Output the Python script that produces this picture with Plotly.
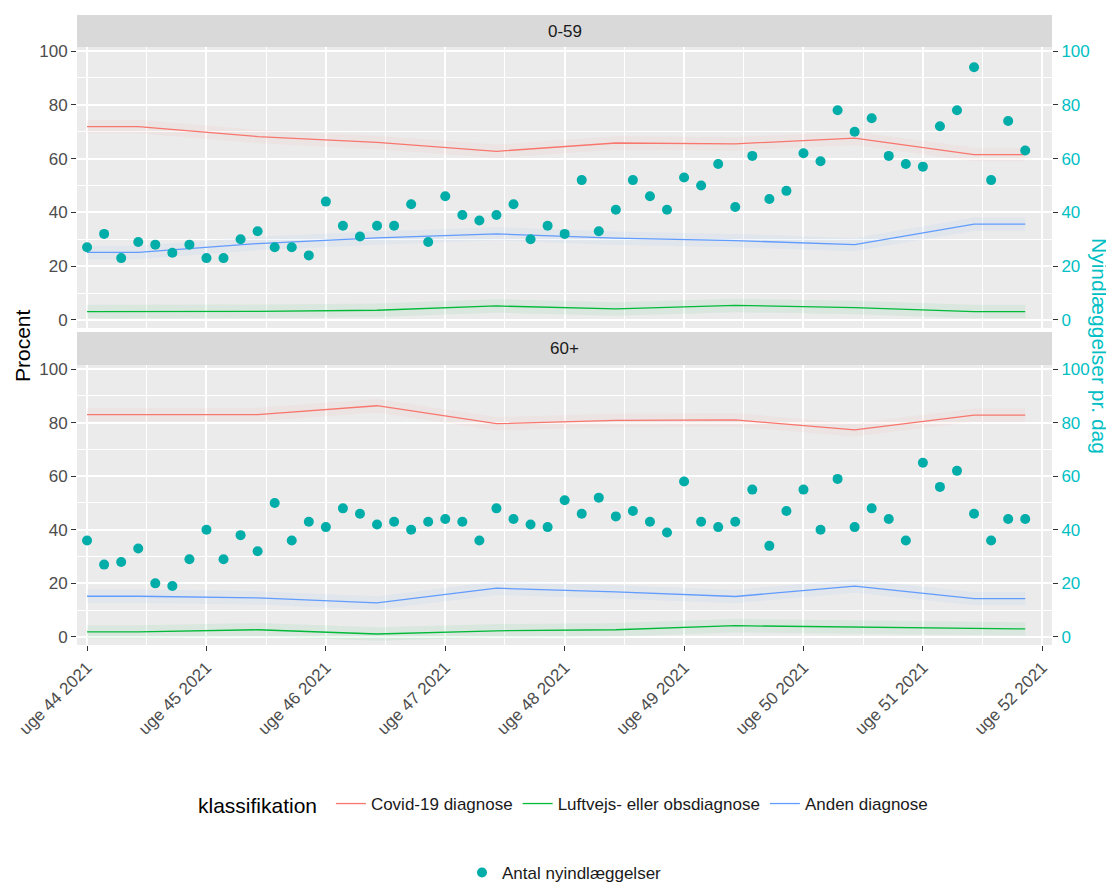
import plotly.graph_objects as go
import pandas as pd

# ---------------- data ----------------
week_labels = ["uge 44 2021", "uge 45 2021", "uge 46 2021", "uge 47 2021", "uge 48 2021",
               "uge 49 2021", "uge 50 2021", "uge 51 2021", "uge 52 2021"]
first_day = "2021-11-01"
last_day = "2021-12-26"

panels = ["0-59", "60+"]

# daily new admissions (right axis)
daily_0_59 = [27, 32, 23, 29, 28, 25, 28, 23, 23, 30, 33, 27, 27, 24, 44, 35, 31, 35, 35, 43,
              29, 46, 39, 37, 39, 43, 30, 35, 32, 52, 33, 41, 52, 46, 41, 53, 50, 58, 42, 61,
              45, 48, 62, 59, 78, 70, 75, 61, 58, 57, 72, 78, 94, 52, 74, 63]
daily_60 = [36, 27, 28, 33, 20, 19, 29, 40, 29, 38, 32, 50, 36, 43, 41, 48, 46, 42, 43, 40,
            43, 44, 43, 36, 48, 44, 42, 41, 51, 46, 52, 45, 47, 43, 39, 58, 43, 41, 43, 55,
            34, 47, 55, 40, 59, 41, 48, 44, 36, 65, 56, 62, 46, 36, 44, 44]

# weekly percentages per classification (weeks 44..51)
classes = ["Covid-19 diagnose", "Luftvejs- eller obsdiagnose", "Anden diagnose"]
covid_0_59 = [71.9, 68.2, 66.0, 62.7, 65.8, 65.5, 67.6, 61.5]
resp_0_59 = [3.1, 3.2, 3.6, 5.2, 4.1, 5.4, 4.6, 3.1]
other_0_59 = [25.1, 28.4, 30.5, 32.0, 30.4, 29.5, 28.0, 35.6]
covid_60 = [83.0, 83.0, 86.3, 79.6, 80.8, 81.0, 77.3, 82.8]
resp_60 = [1.9, 2.7, 1.1, 2.3, 2.7, 4.2, 3.7, 3.0]
other_60 = [15.2, 14.6, 12.7, 18.2, 16.8, 15.1, 19.0, 14.3]

# ---------------- styling ----------------
class_colors = ["#F8766D", "#00BA38", "#619CFF"]
band_fill = ["rgba(248,118,109,0.06)", "rgba(0,186,56,0.07)", "rgba(97,156,255,0.07)"]
band_half = 2.5
point_color = "#00ADA8"
axis_cyan = "#00BFC4"
FONT = "Liberation Sans, Arial, sans-serif"

days = pd.date_range(first_day, last_day, freq="D")
week_starts = pd.date_range(first_day, periods=len(week_labels), freq="7D")
week_mid = week_starts[:-1] + pd.Timedelta(days=3)
minor_vals = week_starts[:-1] + pd.Timedelta(hours=84)

line_x = [days[0]] + list(week_mid) + [days[-1]]

def ext(v):
    return [v[0]] + list(v) + [v[-1]]

fig = go.Figure()

panel_axes = [("x2", "y2", "y4"), ("x", "y", "y3")]
panel_lines = [[covid_0_59, resp_0_59, other_0_59], [covid_60, resp_60, other_60]]
panel_points = [daily_0_59, daily_60]

for pi, (xa, ya, ya_r) in enumerate(panel_axes):
    for ci, vals in enumerate(panel_lines[pi]):
        yv = ext(vals)
        lo = [v - band_half for v in yv]
        hi = [v + band_half for v in yv]
        fig.add_trace(go.Scatter(x=line_x, y=lo, mode="lines", line=dict(width=0),
                                 showlegend=False, hoverinfo="skip", xaxis=xa, yaxis=ya))
        fig.add_trace(go.Scatter(x=line_x, y=hi, mode="lines", line=dict(width=0),
                                 fill="tonexty", fillcolor=band_fill[ci],
                                 showlegend=False, hoverinfo="skip", xaxis=xa, yaxis=ya))
        fig.add_trace(go.Scatter(x=line_x, y=yv, mode="lines", name=classes[ci],
                                 line=dict(color=class_colors[ci], width=1.3),
                                 legendgroup=classes[ci], showlegend=(pi == 0),
                                 legend="legend", xaxis=xa, yaxis=ya))
for pi, (xa, ya, ya_r) in enumerate(panel_axes):
    fig.add_trace(go.Scatter(x=days, y=panel_points[pi], mode="markers",
                             name="Antal nyindlæggelser",
                             marker=dict(color=point_color, size=10),
                             legendgroup="pts", showlegend=(pi == 0), legend="legend2",
                             xaxis=xa, yaxis=ya_r))

# ---------------- layout ----------------
# page pixel targets; the html body adds an 8px offset, so the figure is shrunk by it
OFF = 8
PAGE_W, PAGE_H = 1114, 892
W, H = PAGE_W - OFF, PAGE_H - OFF
panel_left, panel_right, panel_top, panel_bottom = 77, 1052, 15, 645   # page px
ml, mt = panel_left - OFF, panel_top - OFF
mr = PAGE_W - panel_right
mb = PAGE_H - panel_bottom
ph = H - mt - mb
pw = W - ml - mr

def py(p):  # page pixel y -> paper
    return (panel_bottom - p) / ph

def px(p):
    return (p - panel_left) / pw

top_dom = [py(328), py(47)]
bot_dom = [0, py(365)]
yr = [-3, 101.5]
x0 = pd.Timestamp(first_day)
xr = [x0 - pd.Timedelta(days=0.59), x0 + pd.Timedelta(days=56.57)]

tick_font = dict(family=FONT, size=17, color="#4D4D4D")
grid_common = dict(showgrid=True, gridcolor="white", gridwidth=1.8, zeroline=False,
                   showline=False, automargin=False)

xcommon = dict(range=xr, type="date", tickvals=list(week_starts), ticktext=week_labels,
               minor=dict(tickvals=list(minor_vals), showgrid=True, gridcolor="white",
                          gridwidth=0.9, ticks=""),
               **grid_common)

ycommon = dict(range=yr, tickvals=[0, 20, 40, 60, 80, 100],
               minor=dict(tickvals=[10, 30, 50, 70, 90], showgrid=True, gridcolor="white",
                          gridwidth=0.9, ticks=""),
               ticks="outside", ticklen=5, tickwidth=1, tickcolor="#333333",
               tickfont=tick_font, **grid_common)

yright = dict(range=yr, tickvals=[0, 20, 40, 60, 80, 100], side="right", showgrid=False,
              zeroline=False, ticks="outside", ticklen=5, tickwidth=1, tickcolor="#333333",
              automargin=False,
              tickfont=dict(family=FONT, size=17, color=axis_cyan))

fig.update_layout(
    width=W, height=H,
    margin=dict(l=ml, r=mr, t=mt, b=mb, autoexpand=False),
    paper_bgcolor="white", plot_bgcolor="#EBEBEB",
    font=dict(family=FONT, color="#1A1A1A"),
    xaxis=dict(anchor="y", ticks="outside", ticklen=5, tickwidth=1, tickcolor="#333333",
               tickangle=-45, tickfont=tick_font, **xcommon),
    xaxis2=dict(anchor="y2", matches="x", showticklabels=False, ticks="", **xcommon),
    yaxis=dict(domain=bot_dom, anchor="x", **ycommon),
    yaxis2=dict(domain=top_dom, anchor="x2", **ycommon),
    yaxis3=dict(overlaying="y", anchor="x", **yright),
    yaxis4=dict(overlaying="y2", anchor="x2", **yright),
    legend=dict(orientation="h", x=0.5, xanchor="center", y=py(805), yanchor="middle",
                title=dict(text="klassifikation ", side="left",
                           font=dict(family=FONT, size=21, color="#000000")),
                font=dict(family=FONT, size=17, color="#1A1A1A"),
                bgcolor="rgba(0,0,0,0)", itemwidth=30),
    legend2=dict(orientation="h", x=0.5, xanchor="center", y=py(873), yanchor="middle",
                 font=dict(family=FONT, size=17, color="#1A1A1A"),
                 bgcolor="rgba(0,0,0,0)", itemwidth=30),
    showlegend=True,
)

# facet strips
strips = [(py(47), py(15), panels[0]), (py(365), py(332), panels[1])]
for y0s, y1s, label in strips:
    fig.add_shape(type="rect", xref="paper", yref="paper", x0=0, x1=1, y0=y0s, y1=y1s,
                  fillcolor="#D9D9D9", line=dict(width=0), layer="below")
    fig.add_annotation(xref="paper", yref="paper", x=0.5, y=(y0s + y1s) / 2, text=label,
                       showarrow=False, font=dict(family=FONT, size=17, color="#1A1A1A"),
                       xanchor="center", yanchor="middle")

# axis titles
fig.add_annotation(xref="paper", yref="paper", x=px(22), y=py(346), text="Procent",
                   textangle=-90, showarrow=False, xanchor="center", yanchor="middle",
                   font=dict(family=FONT, size=21, color="#000000"))
fig.add_annotation(xref="paper", yref="paper", x=px(1100), y=py(346),
                   text="Nyindlæggelser pr. dag", textangle=90, showarrow=False,
                   xanchor="center", yanchor="middle",
                   font=dict(family=FONT, size=21, color=axis_cyan))

fig.write_html("out.html")
